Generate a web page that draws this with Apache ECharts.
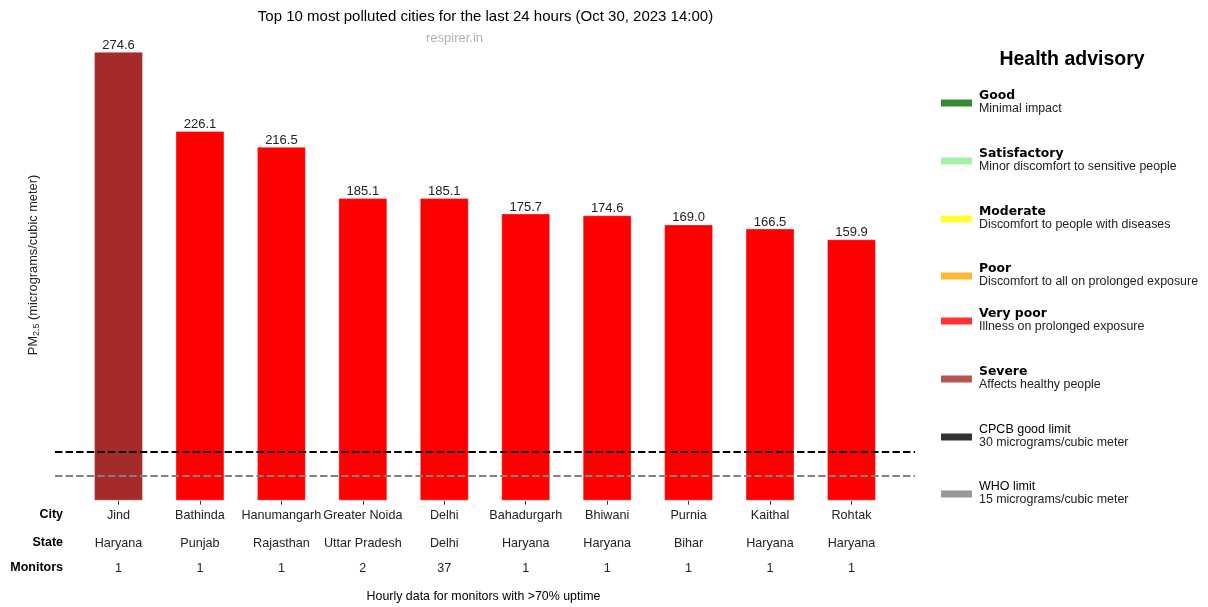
<!DOCTYPE html>
<html>
<head>
<meta charset="utf-8">
<script src="https://cdn.jsdelivr.net/npm/echarts@6/dist/echarts.min.js"></script>
<style>html,body{margin:0;padding:0;background:#fff;}#c{width:1208px;height:607px;}</style>
</head>
<body>
<div id="c"></div>
<script>
const cities = ['Jind','Bathinda','Hanumangarh','Greater Noida','Delhi','Bahadurgarh','Bhiwani','Purnia','Kaithal','Rohtak'];
const states = ['Haryana','Punjab','Rajasthan','Uttar Pradesh','Delhi','Haryana','Haryana','Bihar','Haryana','Haryana'];
const monitors = [1,1,1,2,37,1,1,1,1,1];
const pm25 = [274.6,226.1,216.5,185.1,185.1,175.7,174.6,169.0,166.5,159.9];
const barColors = ['#A52A2A','#FF0000','#FF0000','#FF0000','#FF0000','#FF0000','#FF0000','#FF0000','#FF0000','#FF0000'];
const rowHeaders = ['City','State','Monitors'];
const cpcbLimit = 30;
const whoLimit = 15;
const legendNames = ['Good','Satisfactory','Moderate','Poor','Very poor','Severe','CPCB good limit','WHO limit'];
const legendDescs = ['Minimal impact','Minor discomfort to sensitive people','Discomfort to people with diseases','Discomfort to all on prolonged exposure','Illness on prolonged exposure','Affects healthy people','30 micrograms/cubic meter','15 micrograms/cubic meter'];
const legendColors = ['#338a33','#a6f0a6','#ffff33','#ffb733','#ff3333','#b75555','#333333','#999999'];
const legendBold = [true,true,true,true,true,true,false,false];

const FONT = 'Liberation Sans, Arial, sans-serif';
const chart = echarts.init(document.getElementById('c'), null, {renderer:'canvas'});

const idx = cities.map((_, i) => i);
const gridLeft = 55, gridTop = 29.3, gridW = 860, gridH = 471.4;

// legend graphics
const legendY = [103, 161, 219, 276, 321, 379, 437, 494];
const graphics = [];
graphics.push({type:'text', x:1072, y:60, style:{text:'Health advisory', font:'bold 19.5px ' + FONT, fill:'#000', align:'center', verticalAlign:'middle'}});
legendNames.forEach((n, i) => {
  const y = legendY[i];
  graphics.push({type:'rect', shape:{x:941, y:y-3.5, width:31, height:7}, style:{fill:legendColors[i]}});
  graphics.push({type:'text', x:979, y:y-7.5, style:{text:n, font:(legendBold[i] ? 'bold 12.4px DejaVu Sans, sans-serif' : '12.5px ' + FONT), fill:'#000', verticalAlign:'middle', align:'left'}});
  graphics.push({type:'text', x:979, y:y+5.5, style:{text:legendDescs[i], font:'12.4px ' + FONT, fill:'#222', verticalAlign:'middle', align:'left'}});
});
const rowY = [515, 543, 568];
rowHeaders.forEach((h, i) => {
  graphics.push({type:'text', x:63, y:rowY[i], style:{text:h, font:'bold 12.5px ' + FONT, fill:'#000', align:'right', verticalAlign:'middle'}});
});
graphics.push({type:'text', x:485.5, y:17, style:{text:'Top 10 most polluted cities for the last 24 hours (Oct 30, 2023 14:00)', font:'15px ' + FONT, fill:'#000', align:'center', verticalAlign:'middle'}});
graphics.push({type:'text', x:454.5, y:38, style:{text:'respirer.in', font:'13px ' + FONT, fill:'#b0b0b0', align:'center', verticalAlign:'middle'}});
graphics.push({type:'text', x:483.5, y:597, style:{text:'Hourly data for monitors with >70% uptime', font:'12.4px ' + FONT, fill:'#000', align:'center', verticalAlign:'middle'}});

function rowAxis(arr, offset, ticks) {
  return {
    type:'value', min:-0.78, max:9.78, position:'bottom', offset: offset,
    axisLine:{show:false}, splitLine:{show:false},
    axisTick:{show:ticks, customValues: idx, length:4, lineStyle:{color:'#333', width:1}},
    axisLabel:{show:true, customValues: idx, margin: 8, color:'#222', fontSize:12.6, fontFamily:FONT,
      formatter: v => String(arr[Math.round(v)])}
  };
}

const option = {
  backgroundColor:'#fff',
  animation:false,
  grid:{left:gridLeft, top:gridTop, width:gridW, height:gridH, containLabel:false},
  xAxis:[
    rowAxis(cities, 0, true),
    rowAxis(states, 28, false),
    rowAxis(monitors, 53, false)
  ],
  yAxis:{
    type:'value', min:0, max:288.33,
    axisLine:{show:false}, axisTick:{show:false}, axisLabel:{show:false}, splitLine:{show:false},
    name:'{a|PM}{b|2.5}{a| (micrograms/cubic meter)}',
    nameLocation:'middle', nameRotate:90, nameGap:14,
    nameTextStyle:{rich:{
      a:{fontSize:12.8, fontFamily:FONT, color:'#222', lineHeight:16, verticalAlign:'middle'},
      b:{fontSize:9, fontFamily:FONT, color:'#222', lineHeight:8, verticalAlign:'bottom'}
    }}
  },
  graphic: graphics,
  series:[
    {
      type:'bar', xAxisIndex:0, barWidth:49,
      data: pm25.map((v, i) => ({value:[i, v], itemStyle:{color:barColors[i]}})),
      itemStyle:{borderColor:'rgba(255,255,255,0.35)', borderWidth:1},
      label:{show:true, position:'top', distance:0, color:'#222', fontSize:13, fontFamily:FONT,
        formatter: p => p.value[1].toFixed(1)},
      markLine:{
        silent:true, symbol:'none', label:{show:false},
        data:[
          {yAxis:cpcbLimit, lineStyle:{color:'#000', type:[7.4,3.2], width:2}},
          {yAxis:whoLimit, lineStyle:{color:'#808080', type:[7.4,3.2], width:2}}
        ]
      },
      z: 2
    }
  ]
};
chart.setOption(option);
</script>
</body>
</html>
